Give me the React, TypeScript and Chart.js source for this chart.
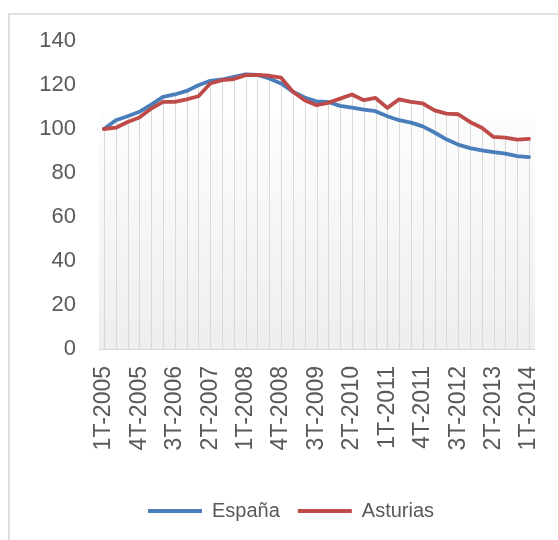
import React, { useEffect, useRef } from "react";
import { Chart, registerables } from "chart.js";

Chart.register(...registerables);

const quarters = [
  "1T-2005", "2T-2005", "3T-2005", "4T-2005",
  "1T-2006", "2T-2006", "3T-2006", "4T-2006",
  "1T-2007", "2T-2007", "3T-2007", "4T-2007",
  "1T-2008", "2T-2008", "3T-2008", "4T-2008",
  "1T-2009", "2T-2009", "3T-2009", "4T-2009",
  "1T-2010", "2T-2010", "3T-2010", "4T-2010",
  "1T-2011", "2T-2011", "3T-2011", "4T-2011",
  "1T-2012", "2T-2012", "3T-2012", "4T-2012",
  "1T-2013", "2T-2013", "3T-2013", "4T-2013",
  "1T-2014",
];

const espana = [
  100, 104.0, 105.8, 107.8, 111.1, 114.6, 115.7, 117.3, 119.9, 121.9,
  122.5, 123.7, 124.8, 124.6, 123.0, 120.7, 116.9, 114.3, 112.6, 112.3,
  110.5, 109.7, 108.8, 108.1, 105.8, 104.0, 102.9, 101.2, 98.4, 95.3,
  92.9, 91.3, 90.3, 89.5, 88.8, 87.7, 87.2,
];

const asturias = [
  100, 100.6, 103.2, 105.2, 109.3, 112.3, 112.3, 113.5, 114.9, 120.7,
  122.2, 122.7, 124.5, 124.6, 124.2, 123.3, 116.9, 113.1, 110.8, 111.9,
  113.8, 115.7, 113.1, 114.1, 109.6, 113.5, 112.3, 111.6, 108.5, 107.0,
  106.7, 103.2, 100.6, 96.4, 96.1, 95.2, 95.5,
];

const seriesNames = ["España", "Asturias"];
const yTicks = [0, 20, 40, 60, 80, 100, 120, 140];

const FONT = "'Liberation Sans', Arial, sans-serif";

const plotDecor = {
  id: "plotDecor",
  afterLayout(chart: any) {
    const l = chart.legend;
    if (l) {
      l.left += 10;
      l.right += 10;
    }
  },
  beforeDatasetsDraw(chart: any) {
    const { ctx, chartArea } = chart;
    const xs = chart.scales.x;
    const ys = chart.scales.y;
    const { left, right, top, bottom } = chartArea;
    ctx.save();
    // gradient plot background
    const gTop = top + (bottom - top) * 0.23;
    const grad = ctx.createLinearGradient(0, gTop, 0, bottom);
    grad.addColorStop(0, "#fdfdfd");
    grad.addColorStop(1, "#eeeeee");
    ctx.fillStyle = grad;
    ctx.fillRect(left - 5, gTop, right - left + 11, bottom - gTop);
    // drop lines
    ctx.strokeStyle = "#d9d9d9";
    ctx.lineWidth = 1;
    const n = chart.data.labels.length;
    for (let i = 0; i < n; i++) {
      let maxV = -Infinity;
      chart.data.datasets.forEach((ds: any) => {
        if (ds.data[i] > maxV) maxV = ds.data[i];
      });
      const x = Math.round(xs.getPixelForValue(i)) + 0.5;
      const yTop = ys.getPixelForValue(maxV);
      ctx.beginPath();
      ctx.moveTo(x, yTop);
      ctx.lineTo(x, bottom);
      ctx.stroke();
    }
    // axis line
    ctx.beginPath();
    ctx.moveTo(left - 5, Math.round(bottom) + 0.5);
    ctx.lineTo(right + 6, Math.round(bottom) + 0.5);
    ctx.stroke();
    ctx.restore();
  },
};

export default function App() {
  const ref = useRef<HTMLCanvasElement>(null);

  useEffect(() => {
    if (!ref.current) return;
    const chart = new Chart(ref.current, {
      type: "line",
      data: {
        labels: quarters,
        datasets: [
          {
            label: seriesNames[0],
            data: espana,
            borderColor: "#4a7ebb",
            backgroundColor: "#4a7ebb",
            borderWidth: 3.8,
            pointRadius: 0,
            tension: 0,
            borderJoinStyle: "round",
            borderCapStyle: "round",
            order: 1,
          },
          {
            label: seriesNames[1],
            data: asturias,
            borderColor: "#be4b48",
            backgroundColor: "#be4b48",
            borderWidth: 3.8,
            pointRadius: 0,
            tension: 0,
            borderJoinStyle: "round",
            borderCapStyle: "round",
            order: 0,
          },
        ],
      },
      plugins: [plotDecor],
      options: {
        animation: false,
        responsive: false,
        maintainAspectRatio: false,
        layout: { padding: { left: 25, right: 29, top: 33, bottom: 17 } },
        plugins: {
          tooltip: { enabled: false },
          legend: {
            position: "bottom",
            labels: {
              usePointStyle: true,
              pointStyle: "line",
              pointStyleWidth: 54,
              padding: 18,
              color: "#595959",
              font: { family: FONT, size: 20 },
              sort: (a: any, b: any) => a.datasetIndex - b.datasetIndex,
            },
          },
        },
        scales: {
          x: {
            type: "category",
            offset: false,
            grid: { display: false, drawTicks: false },
            border: { display: false },
            afterFit: (s: any) => {
              s.height = 134;
              s.paddingLeft = 0;
              s.paddingRight = 0;
            },
            ticks: {
              autoSkip: false,
              minRotation: 90,
              maxRotation: 90,
              padding: 17,
              color: "#595959",
              font: { family: FONT, size: 23 },
              callback: function (this: any, _v: any, i: number) {
                return i % 3 === 0 ? quarters[i] : "";
              },
            },
          },
          y: {
            min: yTicks[0],
            max: yTicks[yTicks.length - 1],
            grid: { display: false, drawTicks: false },
            border: { display: false },
            afterFit: (s: any) => {
              s.width = 71;
              s.paddingTop = 0;
              s.paddingBottom = 0;
            },
            afterBuildTicks: (s: any) => {
              s.ticks = yTicks.map((v) => ({ value: v }));
            },
            ticks: {
              padding: 28,
              color: "#595959",
              font: { family: FONT, size: 22 },
            },
          },
        },
      },
    });
    return () => chart.destroy();
  }, []);

  return (
    <div
      style={{
        position: "fixed",
        left: 0,
        top: 0,
        width: 558,
        height: 540,
        overflow: "hidden",
        background: "#ffffff",
      }}
    >
      <div
        style={{
          position: "absolute",
          left: 8,
          top: 13,
          width: 620,
          height: 620,
          border: "2px solid #e0e0e0",
          boxSizing: "border-box",
        }}
      />
      <canvas
        ref={ref}
        width={550}
        height={540}
        style={{ position: "absolute", left: 8, top: 8, width: 550, height: 540 }}
      />
    </div>
  );
}
